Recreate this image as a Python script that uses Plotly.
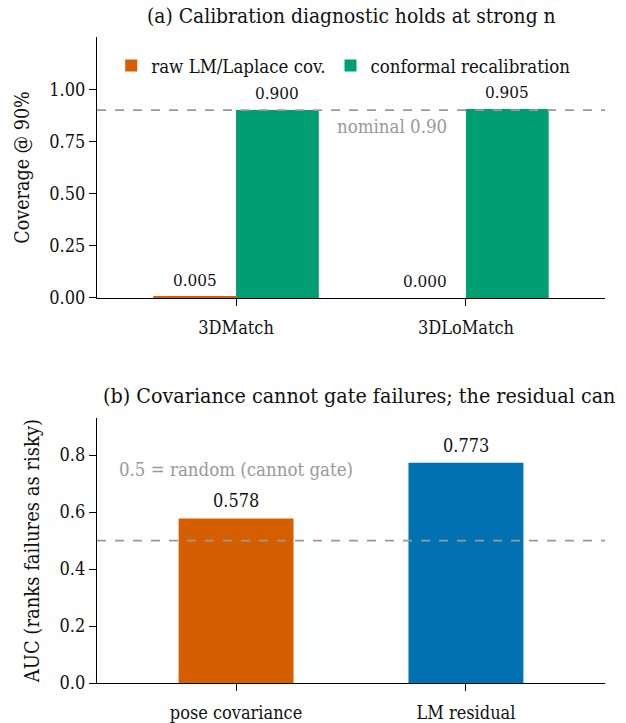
import plotly.graph_objects as go
from plotly.subplots import make_subplots

# Panel (a): coverage at the 90% level
datasets = ["3DMatch", "3DLoMatch"]
raw_cov = [0.005, 0.000]
conformal_cov = [0.900, 0.905]
nominal = 0.90

# Panel (b): AUC for ranking failures as risky
signals = ["pose covariance", "LM residual"]
auc = [0.578, 0.773]
random_auc = 0.5

ORANGE = "#D55E00"
GREEN = "#009E73"
BLUE = "#0072B2"
GREY = "#999999"
FONT = "DejaVu Serif Condensed"

fig = make_subplots(rows=2, cols=1, vertical_spacing=0.186)

xa = [-0.18, 0.82]
xb = [0.18, 1.18]
fig.add_trace(go.Bar(x=xa, y=raw_cov, width=0.36, marker_color=ORANGE,
                     marker_line_width=0, name="raw LM/Laplace cov."), row=1, col=1)
fig.add_trace(go.Bar(x=xb, y=conformal_cov, width=0.36, marker_color=GREEN,
                     marker_line_width=0, name="conformal recalibration"), row=1, col=1)
fig.add_trace(go.Bar(x=[0, 1], y=auc, width=0.5, marker_color=[ORANGE, BLUE],
                     marker_line_width=0, showlegend=False), row=2, col=1)

# value labels
for xs, ys in ((xa, raw_cov), (xb, conformal_cov)):
    for x, y in zip(xs, ys):
        fig.add_annotation(x=x, y=y, text=f"{y:.3f}", showarrow=False,
                           yanchor="bottom", yshift=5, xref="x", yref="y",
                           font=dict(size=17, color="#111"))
for x, y in zip([0, 1], auc):
    fig.add_annotation(x=x, y=y, text=f"{y:.3f}", showarrow=False,
                       yanchor="bottom", yshift=5, xref="x2", yref="y2",
                       font=dict(size=18, color="#111"))

# reference lines
fig.add_shape(type="line", xref="x domain", yref="y", x0=0, x1=1, y0=nominal, y1=nominal,
              line=dict(color=GREY, width=1.6, dash="dash"))
fig.add_shape(type="line", xref="x2 domain", yref="y2", x0=0, x1=1, y0=random_auc, y1=random_auc,
              line=dict(color=GREY, width=1.6, dash="dash"))
fig.add_annotation(x=0.68, y=0.82, xref="x", yref="y", text=f"nominal {nominal:.2f}",
                   showarrow=False, font=dict(size=18.5, color=GREY))
fig.add_annotation(x=-0.52, y=0.75, xref="x2", yref="y2", text="0.5 = random (cannot gate)",
                   showarrow=False, xanchor="left", font=dict(size=18.5, color=GREY))

# panel titles
fig.add_annotation(x=0.5, y=1, xref="x domain", yref="y domain", yshift=7, yanchor="bottom",
                   text="(a) Calibration diagnostic holds at strong n", showarrow=False,
                   font=dict(size=20.8, color="#111"))
fig.add_annotation(x=0.515, y=1, xref="x2 domain", yref="y2 domain", yshift=8, yanchor="bottom",
                   text="(b) Covariance cannot gate failures; the residual can", showarrow=False,
                   font=dict(size=21.3, color="#111"))

axis_common = dict(showline=True, linecolor="black", linewidth=1.3, ticks="outside",
                   ticklen=7, tickwidth=1.3, tickcolor="black", showgrid=False,
                   zeroline=False, automargin=False, tickfont=dict(size=18, color="#111"))
fig.update_xaxes(**axis_common, range=[-0.605, 1.605], tickvals=[0, 1], ticklabelstandoff=6)
fig.update_xaxes(ticktext=datasets, row=1, col=1)
fig.update_xaxes(ticktext=signals, row=2, col=1)
fig.update_yaxes(**axis_common)
fig.update_yaxes(range=[0, 1.25], tickvals=[0, 0.25, 0.5, 0.75, 1.0], tickformat=".2f",
                 title=dict(text="Coverage @ 90%", font=dict(size=19.5, color="#111"), standoff=14),
                 row=1, col=1)
fig.update_yaxes(range=[0, 0.93], tickvals=[0, 0.2, 0.4, 0.6, 0.8], tickformat=".1f",
                 title=dict(text="AUC (ranks failures as risky)", font=dict(size=20, color="#111"), standoff=14),
                 row=2, col=1)

fig.update_layout(
    width=626, height=723,
    margin=dict(l=97, r=21, t=37, b=40),
    plot_bgcolor="white", paper_bgcolor="white",
    font=dict(family=FONT, color="#111"),
    barmode="overlay",
    legend=dict(orientation="h", x=0.028, y=0.955, xanchor="left", yanchor="middle",
                font=dict(size=18.5), bgcolor="rgba(0,0,0,0)", itemwidth=30),
)
fig.update_yaxes(domain=[0.596, 1.0], row=1, col=1)
fig.update_yaxes(domain=[0.0, 0.41], row=2, col=1)

fig.write_html("out.html")
